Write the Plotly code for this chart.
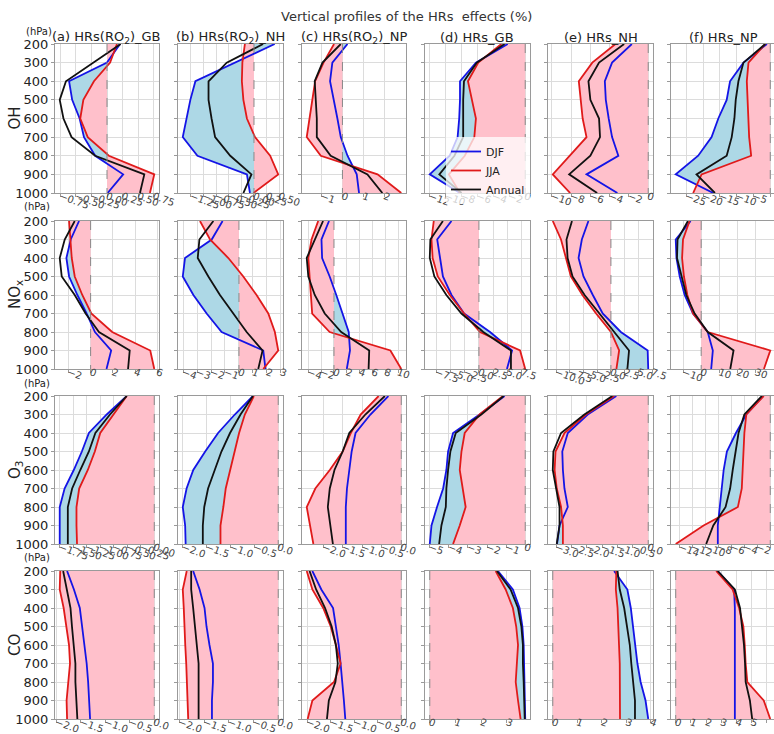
import plotly.graph_objects as go

# ---------------- data ----------------
levels = [200, 300, 400, 500, 600, 700, 800, 900, 1000]
level_ticks = [200, 300, 400, 500, 600, 700, 800, 900, 1000]
panel_titles = ["(a) HRs(RO<sub>2</sub>)_GB", "(b) HRs(RO<sub>2</sub>)_NH", "(c) HRs(RO<sub>2</sub>)_NP",
                "(d) HRs_GB", "(e) HRs_NH", "(f) HRs_NP"]
row_labels = ["OH", "NO<sub>x</sub>", "O<sub>3</sub>", "CO"]
season_names = ["DJF", "JJA", "Annual"]

OH_DJF = [
    [0.21, 0.0, -0.61, -0.56, -0.44, -0.37, -0.19, 0.26, 0.01],
    [0.41, -0.38, -1.16, -1.26, -1.33, -1.41, -1.12, -0.14, -0.08],
    [0.24, -0.48, -0.59, -0.40, -0.24, -0.08, 0.24, 0.68, 0.79],
    [-2.2, -6.2, -8.2, -8.2, -8.3, -8.5, -9.5, -12.0, -8.2],
    [-1.7, -3.75, -4.5, -4.4, -4.1, -3.75, -3.1, -6.4, -3.2],
    [-1.0, -8.0, -12.0, -13.0, -15.5, -17.5, -21.5, -28.2, -17.0],
]
OH_JJA = [
    [0.16, 0.05, -0.21, -0.38, -0.43, -0.31, 0.03, 0.76, 0.69],
    [-0.18, -0.23, -0.24, -0.21, -0.14, 0.02, 0.32, 0.48, -0.01],
    [-0.4, -0.9, -1.3, -1.43, -1.59, -1.7, -1.03, 1.67, 2.8],
    [-3.0, -5.9, -7.2, -6.7, -6.2, -6.4, -7.6, -9.6, -8.2],
    [-3.4, -5.8, -7.2, -7.0, -6.8, -6.4, -8.1, -9.9, -8.1],
    [-1.5, -6.5, -7.0, -6.7, -6.5, -6.3, -5.7, -20.5, -23.0],
]
OH_ANN = [
    [0.22, -0.21, -0.66, -0.76, -0.70, -0.57, -0.19, 0.60, 0.53],
    [0.18, -0.54, -0.90, -0.90, -0.84, -0.77, -0.47, -0.05, -0.21],
    [-0.08, -0.95, -1.32, -1.27, -1.22, -1.22, -0.56, 1.19, 1.90],
    [-2.6, -6.1, -7.7, -7.8, -7.8, -7.8, -8.9, -10.8, -8.0],
    [-2.5, -5.1, -6.2, -6.0, -5.1, -5.0, -6.0, -8.2, -5.3],
    [-1.5, -8.0, -9.5, -10.3, -10.7, -11.5, -13.0, -22.0, -16.5],
]

NOX_DJF = [
    [-1.04, -1.79, -2.18, -1.94, -1.19, -0.36, 0.39, 1.85, 1.43],
    [-1.17, -1.95, -3.86, -4.02, -3.26, -2.31, -1.24, 1.74, 1.90],
    [-0.77, -1.95, -1.85, -0.67, 0.36, 1.38, 2.3, 2.5, 2.0],
    [-4.8, -7.3, -6.8, -6.3, -4.8, -2.6, 1.94, 5.8, 4.9],
    [-4.1, -5.3, -5.9, -5.0, -3.3, -1.5, 1.8, 6.7, 6.8],
    [-5.8, -14.0, -13.6, -11.8, -9.1, -4.5, 3.6, 6.4, 5.5],
]
NOX_JJA = [
    [-1.94, -1.79, -1.7, -1.43, -0.75, 0.06, 1.94, 5.37, 5.73],
    [-2.79, -2.07, -0.76, 0.31, 1.26, 2.1, 2.57, 2.81, 1.74],
    [-2.46, -3.5, -4.0, -3.85, -3.6, -3.4, -0.67, 8.8, 10.5],
    [-7.9, -8.3, -8.1, -7.2, -5.1, -2.6, 0.18, 7.2, 8.1],
    [-10.6, -9.1, -8.2, -7.3, -5.2, -2.7, 0.0, 1.5, 1.0],
    [-6.4, -10.0, -10.5, -9.5, -7.6, -4.5, 3.6, 38.0, 34.5],
]
NOX_ANN = [
    [-1.43, -2.33, -2.78, -2.6, -1.43, -0.45, 0.75, 3.52, 3.37],
    [-1.83, -2.83, -2.95, -2.19, -1.36, -0.4, 0.55, 1.69, 1.38],
    [-1.7, -3.0, -4.25, -4.0, -3.0, -1.44, 1.13, 5.5, 5.4],
    [-6.3, -8.5, -8.6, -7.8, -5.7, -3.06, 0.76, 5.6, 5.6],
    [-7.1, -8.1, -7.9, -7.0, -4.8, -2.1, 0.6, 3.3, 3.0],
    [-7.3, -13.0, -13.3, -10.9, -8.2, -3.6, 3.6, 17.8, 16.0],
]

O3_DJF = [
    [-0.51, -0.88, -1.21, -1.34, -1.49, -1.66, -1.75, -1.75, -1.75],
    [-0.53, -0.91, -1.26, -1.53, -1.78, -1.92, -2.0, -1.95, -1.94],
    [-0.33, -0.79, -1.17, -1.27, -1.33, -1.39, -1.42, -1.42, -1.42],
    [-1.08, -2.39, -3.78, -4.04, -4.13, -4.3, -4.62, -4.91, -5.0],
    [-1.04, -1.97, -2.62, -2.8, -2.78, -2.73, -2.62, -2.89, -2.97],
    [-1.1, -3.7, -5.3, -6.7, -7.2, -7.5, -7.9, -8.1, -8.1],
]
O3_JJA = [
    [-0.51, -0.75, -1.0, -1.1, -1.23, -1.39, -1.44, -1.44, -1.43],
    [-0.51, -0.7, -0.82, -0.91, -1.01, -1.1, -1.15, -1.21, -1.21],
    [-0.58, -1.04, -1.29, -1.5, -1.83, -2.2, -2.42, -2.33, -2.25],
    [-1.17, -2.39, -3.17, -3.34, -3.43, -3.26, -3.12, -3.43, -3.78],
    [-1.11, -2.03, -2.73, -3.02, -3.05, -2.98, -2.84, -2.78, -2.78],
    [-1.0, -3.7, -4.0, -4.1, -4.2, -4.4, -5.0, -10.3, -14.6],
]
O3_ANN = [
    [-0.51, -0.82, -1.09, -1.21, -1.37, -1.52, -1.6, -1.6, -1.6],
    [-0.53, -0.79, -1.01, -1.19, -1.33, -1.47, -1.55, -1.58, -1.58],
    [-0.42, -0.92, -1.33, -1.5, -1.71, -1.83, -1.88, -1.81, -1.75],
    [-1.13, -2.3, -3.64, -3.92, -4.04, -4.13, -4.16, -4.39, -4.51],
    [-1.17, -2.08, -2.84, -3.09, -3.11, -3.0, -2.89, -2.89, -2.98],
    [-1.3, -4.0, -4.9, -5.4, -5.8, -6.2, -6.9, -8.8, -9.9],
]

CO_DJF = [
    [-1.78, -1.64, -1.52, -1.47, -1.42, -1.38, -1.35, -1.33, -1.31],
    [-1.72, -1.59, -1.49, -1.45, -1.39, -1.32, -1.32, -1.34, -1.34],
    [-1.89, -1.7, -1.45, -1.39, -1.33, -1.29, -1.25, -1.22, -1.19],
    [2.65, 3.23, 3.49, 3.6, 3.65, 3.66, 3.67, 3.7, 3.71],
    [2.5, 3.04, 3.18, 3.27, 3.35, 3.45, 3.58, 3.78, 3.89],
    [2.76, 3.84, 3.89, 3.89, 3.89, 3.89, 3.89, 3.89, 3.89],
]
CO_JJA = [
    [-1.92, -1.93, -1.85, -1.79, -1.74, -1.72, -1.76, -1.79, -1.78],
    [-1.85, -1.93, -1.91, -1.9, -1.88, -1.86, -1.85, -1.83, -1.82],
    [-2.01, -1.89, -1.66, -1.5, -1.39, -1.29, -1.43, -1.89, -1.99],
    [2.56, 2.95, 3.23, 3.36, 3.43, 3.39, 3.34, 3.43, 3.53],
    [2.59, 2.57, 2.64, 2.68, 2.7, 2.73, 2.74, 2.74, 2.74],
    [2.66, 3.74, 4.17, 4.45, 4.54, 4.6, 4.71, 5.79, 6.22],
]
CO_ANN = [
    [-1.86, -1.78, -1.71, -1.68, -1.64, -1.61, -1.61, -1.59, -1.57],
    [-1.76, -1.76, -1.72, -1.68, -1.64, -1.61, -1.61, -1.61, -1.61],
    [-1.95, -1.81, -1.62, -1.48, -1.39, -1.35, -1.4, -1.54, -1.58],
    [2.61, 3.14, 3.43, 3.56, 3.62, 3.62, 3.65, 3.67, 3.69],
    [2.64, 2.73, 2.91, 3.04, 3.14, 3.2, 3.27, 3.35, 3.35],
    [2.76, 3.89, 4.23, 4.38, 4.49, 4.56, 4.6, 4.88, 5.03],
]

# x tick values per row/column
XTICKS = [
    [[-0.75, -0.5, -0.25, 0, 0.25, 0.5, 0.75], [-1.25, -1.0, -0.75, -0.5, -0.25, 0, 0.25, 0.5],
     [-1, 0, 1, 2], [-12, -10, -8, -6, -4, -2, 0], [-10, -8, -6, -4, -2, 0], [-25, -20, -15, -10, -5, 0]],
    [[-2, 0, 2, 4, 6], [-4, -3, -2, -1, 0, 1, 2, 3], [-4, -2, 0, 2, 4, 6, 8, 10],
     [-7.5, -5.0, -2.5, 0, 2.5, 5.0, 7.5], [-10.0, -7.5, -5.0, -2.5, 0, 2.5, 5.0, 7.5], [-10, 0, 10, 20, 30]],
    [[-1.75, -1.5, -1.25, -1.0, -0.75, -0.5, -0.25, 0], [-2.0, -1.5, -1.0, -0.5, 0], [-2.0, -1.5, -1.0, -0.5, 0],
     [-5, -4, -3, -2, -1, 0], [-3.0, -2.5, -2.0, -1.5, -1.0, -0.5, 0], [-14, -12, -10, -8, -6, -4, -2, 0]],
    [[-2.0, -1.5, -1.0, -0.5, 0], [-2.0, -1.5, -1.0, -0.5, 0], [-2.0, -1.5, -1.0, -0.5, 0],
     [0, 1, 2, 3], [0, 1, 2, 3, 4], [0, 1, 2, 3, 4, 5, 6]],
]
XDEC = [
    [2, 2, 0, 0, 0, 0],
    [0, 0, 0, 1, 1, 0],
    [2, 1, 1, 0, 1, 0],
    [1, 1, 1, 0, 0, 0],
]

DATA = [(OH_DJF, OH_JJA, OH_ANN), (NOX_DJF, NOX_JJA, NOX_ANN),
        (O3_DJF, O3_JJA, O3_ANN), (CO_DJF, CO_JJA, CO_ANN)]

# ---------------- layout / styles ----------------
W, H = 774, 734
COLS_PX = [(55, 159), (178, 283), (302, 406), (425, 530), (548, 653), (671, 774)]
ROWS_PX = [(44, 193), (221, 369), (396, 544), (571, 719)]
C_DJF, C_JJA, C_ANN = "#1414e6", "#e01a1a", "#111111"
FONT = "DejaVu Sans"


def px_x(p):
    return p / W


def px_y(p):
    return 1 - p / H


def fmt(v, d):
    s = f"{v:.{d}f}"
    return s.replace("-", "\u2212")


fig = go.Figure()
layout = dict(width=W, height=H, margin=dict(l=0, r=0, t=0, b=0, pad=0, autoexpand=False),
              plot_bgcolor="white", paper_bgcolor="white",
              font=dict(family=FONT, color="#333"))
shapes = []
annotations = []

for r in range(4):
    djf_all, jja_all, ann_all = DATA[r]
    for c in range(6):
        n = r * 6 + c + 1
        xa = "x" if n == 1 else f"x{n}"
        ya = "y" if n == 1 else f"y{n}"
        djf, jja, ann = djf_all[c], jja_all[c], ann_all[c]
        # light blue fill between DJF and JJA
        fig.add_trace(go.Scatter(x=djf + jja[::-1], y=levels + levels[::-1], mode="lines",
                                 fill="toself", fillcolor="#ADD8E6", line=dict(width=0),
                                 hoverinfo="skip", showlegend=False, xaxis=xa, yaxis=ya))
        # pink fill between 0 and JJA
        fig.add_trace(go.Scatter(x=[0] * len(levels) + jja[::-1], y=levels + levels[::-1], mode="lines",
                                 fill="toself", fillcolor="#FFC0CB", line=dict(width=0),
                                 hoverinfo="skip", showlegend=False, xaxis=xa, yaxis=ya))
        for vals, col, name in ((djf, C_DJF, "DJF"), (jja, C_JJA, "JJA"), (ann, C_ANN, "Annual")):
            fig.add_trace(go.Scatter(x=vals, y=levels, mode="lines", name=name,
                                     line=dict(color=col, width=1.8),
                                     showlegend=(n == 4), xaxis=xa, yaxis=ya))
        # matplotlib-like autoscale (5% margin), including zero from the fill
        lo = min(min(djf), min(jja), min(ann), 0)
        hi = max(max(djf), max(jja), max(ann), 0)
        pad = 0.05 * (hi - lo)
        x0p, x1p = COLS_PX[c]
        rng = [lo - pad, hi + pad]
        if x1p >= W:
            full = 104.0
            rng = [lo - pad, lo - pad + (hi - lo + 2 * pad) * (x1p - x0p) / full]
        ticks = XTICKS[r][c]
        layout["xaxis" if n == 1 else f"xaxis{n}"] = dict(
            domain=[px_x(x0p), px_x(x1p)], anchor=ya, range=rng, automargin=False,
            tickvals=ticks, ticktext=[fmt(t, XDEC[r][c]) for t in ticks],
            tickangle=20, tickfont=dict(size=10, color="#444", family=FONT),
            ticklabelstandoff=-10,
            showgrid=True, gridcolor="#dcdcdc", gridwidth=1, zeroline=False,
            showline=True, linecolor="#9a9a9a", linewidth=1, mirror=True,
            ticks="outside", ticklen=3, tickcolor="#9a9a9a")
        y0p, y1p = ROWS_PX[r]
        layout["yaxis" if n == 1 else f"yaxis{n}"] = dict(
            domain=[px_y(y1p), px_y(y0p)], anchor=xa, range=[1000, 200], automargin=False,
            tickvals=level_ticks, ticktext=[str(v) for v in level_ticks],
            showticklabels=(c == 0), tickfont=dict(size=13, color="#222", family=FONT),
            showgrid=True, gridcolor="#dcdcdc", gridwidth=1, zeroline=False,
            showline=True, linecolor="#9a9a9a", linewidth=1, mirror=True,
            ticks="outside", ticklen=3, tickcolor="#9a9a9a")
        shapes.append(dict(type="line", xref=xa, yref=ya, x0=0, x1=0, y0=200, y1=1000,
                           line=dict(color="#888", width=1, dash="dash"), layer="above"))
        if r == 0:
            annotations.append(dict(text=panel_titles[c], x=px_x((x0p + x1p) / 2 if x1p < W else (x0p + 52)),
                                    y=px_y(37), xref="paper", yref="paper", showarrow=False,
                                    font=dict(size=13, color="#222", family=FONT),
                                    xanchor="center", yanchor="middle"))
    annotations.append(dict(text=row_labels[r], x=px_x(15), y=px_y((ROWS_PX[r][0] + ROWS_PX[r][1]) / 2),
                            xref="paper", yref="paper", showarrow=False, textangle=-90,
                            font=dict(size=15, color="#222", family=FONT),
                            xanchor="center", yanchor="middle"))

for (hx, hy) in [(39, 32), (37, 206), (37, 384), (37, 557)]:
    annotations.append(dict(text="(hPa)", x=px_x(hx), y=px_y(hy), xref="paper", yref="paper",
                            showarrow=False, font=dict(size=10, color="#222", family=FONT),
                            xanchor="center", yanchor="middle"))

annotations.append(dict(text="Vertical profiles of the HRs&nbsp; effects (%)", x=px_x(406), y=px_y(17),
                        xref="paper", yref="paper", showarrow=False,
                        font=dict(size=13, color="#333", family=FONT),
                        xanchor="center", yanchor="middle"))

layout["shapes"] = shapes
layout["annotations"] = annotations
layout["showlegend"] = True
layout["legend"] = dict(x=px_x(446), y=px_y(137), xanchor="left", yanchor="top",
                        bgcolor="rgba(255,255,255,0.75)", borderwidth=0,
                        font=dict(size=11, color="#222", family=FONT),
                        tracegroupgap=0, itemwidth=30)
fig.update_layout(**layout)
fig.write_html("out.html", config={"displayModeBar": False},
               post_script="document.body.style.margin='0px';document.body.style.padding='0px';")
